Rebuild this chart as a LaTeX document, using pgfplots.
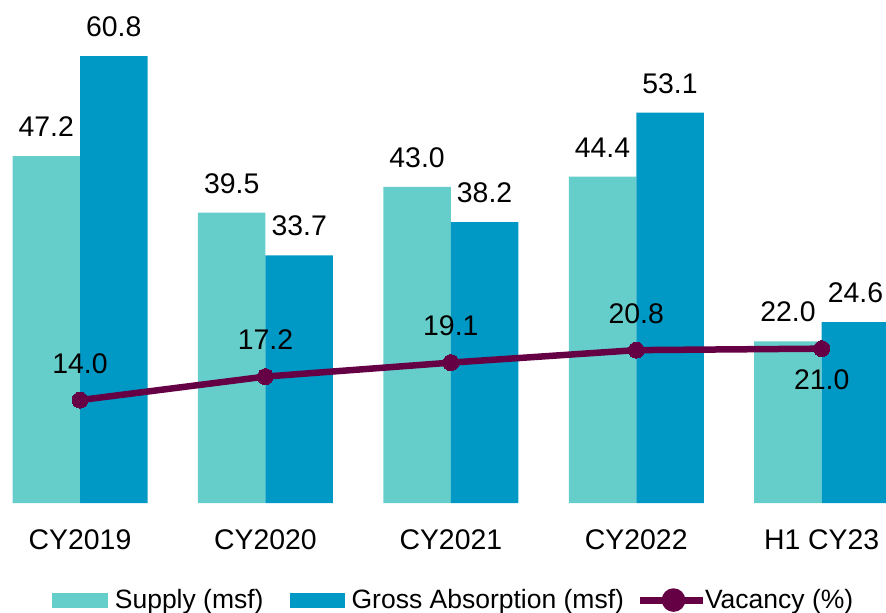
\documentclass[border=0pt]{standalone}
\usepackage{pgfplots}
\pgfplotsset{compat=1.18}
\usepackage{fontspec}
\setmainfont{Liberation Sans}
\definecolor{supply}{RGB}{102,206,202}
\definecolor{absorb}{RGB}{0,152,196}
\definecolor{vac}{RGB}{102,0,68}
\begin{document}
\begin{tikzpicture}
\useasboundingbox (0,0) rectangle (886bp,613bp);
\begin{axis}[
  at={(0bp,110bp)}, anchor=south west,
  scale only axis, width=886bp, height=503bp,
  xmin=-0.4315, xmax=4.347, ymin=0, ymax=68.44,
  clip=false,
  axis line style={draw=none},
  ytick=\empty,
  xtick={0,1,2,3,4},
  xticklabels={CY2019,CY2020,CY2021,CY2022,H1 CY23},
  major tick length=0pt,
  xticklabel style={font=\fontsize{28.5}{34}\selectfont, anchor=north, inner sep=0pt, yshift=-26bp},
  /pgf/number format/assume math mode=true,
  /pgf/number format/.cd, fixed, fixed zerofill, precision=1, /pgfplots/.cd,
  legend columns=3,
  legend style={at={(0.5108,-0.193)}, anchor=center, draw=none, fill=none,
    font=\fontsize{26.6}{30}\selectfont, inner sep=0pt,
    nodes={inner sep=0pt},
    /tikz/column 1/.style={column sep=7bp},
    /tikz/column 2/.style={column sep=26bp},
    /tikz/column 3/.style={column sep=7bp},
    /tikz/column 4/.style={column sep=26bp},
    /tikz/column 5/.style={column sep=-1bp}},
]
\addplot[ybar, bar width=67.5bp, bar shift=-33.75bp, fill=supply, draw=none,
  nodes near coords,
  every node near coord/.append style={font=\fontsize{28.5}{34}\selectfont, anchor=south, inner sep=0pt, xshift=-33.75bp, yshift=19bp, text=black},
  area legend,
  legend image code/.code={\fill[supply] (0bp,-7.5bp) rectangle (56bp,7.5bp);}]
  coordinates {(0,47.2) (1,39.5) (2,43.0) (3,44.4) (4,22.0)};
\addlegendentry{Supply (msf)}
\addplot[ybar, bar width=67.5bp, bar shift=33.75bp, fill=absorb, draw=none,
  nodes near coords,
  every node near coord/.append style={font=\fontsize{28.5}{34}\selectfont, anchor=south, inner sep=0pt, xshift=33.75bp, yshift=19bp, text=black},
  area legend,
  legend image code/.code={\fill[absorb] (0bp,-7.5bp) rectangle (55bp,7.5bp);}]
  coordinates {(0,60.8) (1,33.7) (2,38.2) (3,53.1) (4,24.6)};
\addlegendentry{Gross Absorption (msf)}
\addplot[color=vac, line width=6.5bp, mark=*, mark size=8bp,
  mark options={fill=vac, draw=vac, line width=0pt},
  legend image code/.code={\draw[vac, line width=7bp] (0bp,0bp) -- (49bp,0bp); \draw[vac, line width=7bp, overlay] (-14bp,0bp) -- (0bp,0bp); \fill[vac] (20bp,0bp) circle (8.5bp);}]
  coordinates {(0,14.0) (1,17.2) (2,19.1) (3,20.8) (4,21.0)};
\addlegendentry{Vacancy (\%)}
\addplot[draw=none, mark=none, forget plot,
  nodes near coords,
  every node near coord/.append style={font=\fontsize{28.5}{34}\selectfont, anchor=south, inner sep=0pt, yshift=26.5bp, text=black}]
  coordinates {(0,14.0) (1,17.2) (2,19.1) (3,20.8)};
\addplot[draw=none, mark=none, forget plot,
  nodes near coords,
  every node near coord/.append style={font=\fontsize{28.5}{34}\selectfont, anchor=north, inner sep=0pt, yshift=-21bp, text=black}]
  coordinates {(4,21.0)};
\end{axis}
\end{tikzpicture}
\end{document}
